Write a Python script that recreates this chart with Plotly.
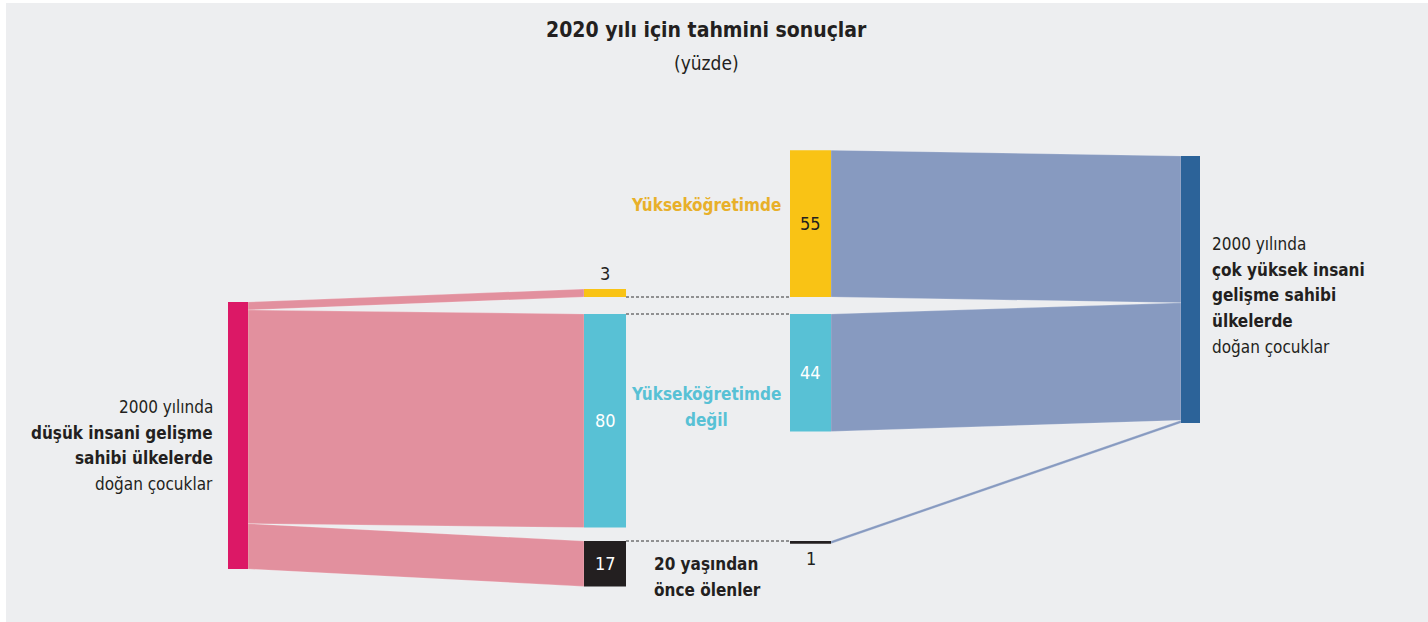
import plotly.graph_objects as go

# ---------------- data ----------------
categories = ["Yükseköğretimde", "Yükseköğretimde değil", "20 yaşından önce ölenler"]
low_hdi_values = [3, 80, 17]        # children born in low HDI countries (percent)
very_high_hdi_values = [55, 44, 1]  # children born in very high HDI countries (percent)

title_text = "<b>2020 yılı için tahmini sonuçlar</b>"
subtitle_text = "(yüzde)"
left_label_lines = ["2000 yılında", "<b>düşük insani gelişme</b>", "<b>sahibi ülkelerde</b>", "doğan çocuklar"]
right_label_lines = ["2000 yılında", "<b>çok yüksek insani</b>", "<b>gelişme sahibi</b>", "<b>ülkelerde</b>", "doğan çocuklar"]
cat_label_lines = [["<b>Yükseköğretimde</b>"], ["<b>Yükseköğretimde</b>", "<b>değil</b>"],
                   ["<b>20 yaşından</b>", "<b>önce ölenler</b>"]]

# ---------------- style / layout constants ----------------
W, H = 1428, 622
K = 2.67  # pixels per percentage point
FONT = "DejaVu Sans Condensed, DejaVu Sans, sans-serif"
BG = "#EDEEF0"
DARK = "#231F20"
node_colors = ["#F9C315", "#58C1D5", "#231F20"]
label_colors = ["#E8B02A", "#58C1D5", "#231F20"]
pink_flow = "#E2909E"
blue_flow = "#879AC0"
left_node_color = "#DC1866"
right_node_color = "#2C6399"

LX0, LX1 = 228, 248
M1X0, M1X1 = 584, 626
M2X0, M2X1 = 790, 831
RX0, RX1 = 1181, 1200
LEFT_TOP = 302
RIGHT_TOP = 156
anchors = [(297, "bottom"), (314, "top"), (541, "top")]
LINE_H = 25.7


def node_span(anchor, value):
    y, mode = anchor
    if mode == "bottom":
        return y - value * K, y
    return y, y + value * K


def rect(x0, x1, y0, y1, color):
    return go.Scatter(x=[x0, x1, x1, x0, x0], y=[y0, y0, y1, y1, y0], mode="lines",
                      fill="toself", fillcolor=color, line=dict(width=0),
                      hoverinfo="skip", showlegend=False)


def band(xa, ya0, ya1, xb, yb0, yb1, color):
    return go.Scatter(x=[xa, xb, xb, xa, xa], y=[ya0, yb0, yb1, ya1, ya0], mode="lines",
                      fill="toself", fillcolor=color,
                      line=dict(width=0.6, color="rgba(255,255,255,0.35)"),
                      hoverinfo="skip", showlegend=False)


fig = go.Figure()

cum = LEFT_TOP
for i, v in enumerate(low_hdi_values):
    t0, t1 = node_span(anchors[i], v)
    fig.add_trace(band(LX1, cum, cum + v * K, M1X0, t0, t1, pink_flow))
    cum += v * K
fig.add_trace(rect(LX0, LX1, LEFT_TOP, LEFT_TOP + sum(low_hdi_values) * K, left_node_color))

cum = RIGHT_TOP
for i, v in enumerate(very_high_hdi_values):
    s0, s1 = node_span(anchors[i], v)
    fig.add_trace(band(M2X1, s0, s1, RX0, cum, cum + v * K, blue_flow))
    cum += v * K
fig.add_trace(rect(RX0, RX1, RIGHT_TOP, RIGHT_TOP + sum(very_high_hdi_values) * K, right_node_color))

annotations = []


def text_lines(lines, x, y_first, xanchor, size, color):
    for j, t in enumerate(lines):
        annotations.append(dict(x=x, y=y_first + j * LINE_H, text=t, showarrow=False,
                                xanchor=xanchor, yanchor="middle",
                                font=dict(size=size, color=color, family=FONT)))


for i in range(3):
    a0, a1 = node_span(anchors[i], low_hdi_values[i])
    b0, b1 = node_span(anchors[i], very_high_hdi_values[i])
    fig.add_trace(rect(M1X0, M1X1, a0, a1, node_colors[i]))
    fig.add_trace(rect(M2X0, M2X1, b0, b1, node_colors[i]))
    ay = anchors[i][0]
    fig.add_trace(go.Scatter(x=[M1X1, M2X0], y=[ay, ay], mode="lines",
                             line=dict(color="#333333", width=1, dash="3px,2px"),
                             hoverinfo="skip", showlegend=False))

    for (x0, x1, s0, s1, v) in [(M1X0, M1X1, a0, a1, low_hdi_values[i]),
                                (M2X0, M2X1, b0, b1, very_high_hdi_values[i])]:
        h = s1 - s0
        if h > 30:
            col = DARK if i == 0 else "white"
            annotations.append(dict(x=(x0 + x1) / 2, y=(s0 + s1) / 2, text=str(v), showarrow=False,
                                    font=dict(size=18, color=col, family=FONT),
                                    xanchor="center", yanchor="middle"))
        elif i == 0:
            annotations.append(dict(x=(x0 + x1) / 2, y=s0 - 3, text=str(v), showarrow=False,
                                    font=dict(size=18, color=DARK, family=FONT),
                                    xanchor="center", yanchor="bottom"))
        else:
            annotations.append(dict(x=(x0 + x1) / 2, y=s1 + 2, text=str(v), showarrow=False,
                                    font=dict(size=18, color=DARK, family=FONT),
                                    xanchor="center", yanchor="top"))

# category labels
text_lines(cat_label_lines[0], 783, 205, "right", 17, label_colors[0])
text_lines(cat_label_lines[1], 706, 394, "center", 17, label_colors[1])
text_lines(cat_label_lines[2], 652, 564, "left", 17, label_colors[2])

# side labels
text_lines(left_label_lines, 215, 407, "right", 17, DARK)
text_lines(right_label_lines, 1210, 244, "left", 17, DARK)

# title
annotations.append(dict(x=706, y=30, text=title_text, showarrow=False, xanchor="center", yanchor="middle",
                        font=dict(size=21, color=DARK, family=FONT)))
annotations.append(dict(x=706, y=63, text=subtitle_text, showarrow=False, xanchor="center", yanchor="middle",
                        font=dict(size=19, color=DARK, family=FONT)))

fig.update_layout(
    width=W, height=H, autosize=False,
    margin=dict(l=0, r=0, t=0, b=0),
    paper_bgcolor="white", plot_bgcolor="white",
    xaxis=dict(range=[0, W], visible=False, fixedrange=True),
    yaxis=dict(range=[H, 0], visible=False, fixedrange=True),
    shapes=[dict(type="rect", xref="x", yref="y", x0=6, x1=W, y0=3, y1=H,
                 fillcolor=BG, line=dict(width=0), layer="below")],
    annotations=annotations,
    showlegend=False,
)

fig.write_html("out.html", config={"displayModeBar": False},
               post_script="document.body.style.margin='0';document.body.style.overflow='hidden';")
